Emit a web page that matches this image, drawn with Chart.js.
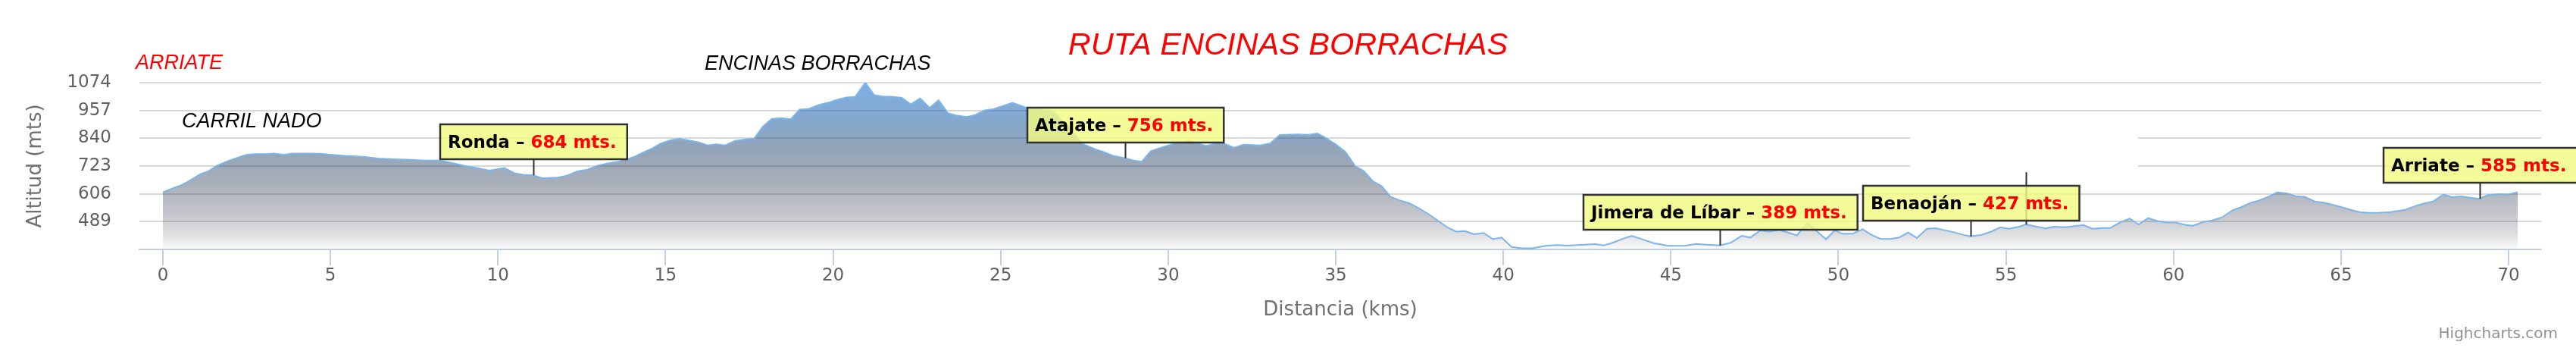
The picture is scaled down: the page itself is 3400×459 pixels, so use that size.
<!DOCTYPE html>
<html>
<head>
<meta charset="utf-8">
<title>Ruta Encinas Borrachas</title>
<script src="https://cdn.jsdelivr.net/npm/chart.js@4.4.1/dist/chart.umd.min.js"></script>
<style>
  html, body { margin: 0; padding: 0; background: #fff; }
  canvas { display: block; }
</style>
</head>
<body>
<canvas id="perfil" width="3400" height="459"></canvas>
<script>
// Perfil: distancia (kms) y altitud (mts)
var kms = [0, 0.32, 0.54, 0.77, 1.11, 1.37, 1.6, 1.94, 2.2, 2.49, 2.73, 3.03, 3.33, 3.6, 3.86, 4.39, 4.69, 4.99, 5.44, 5.97,
  6.42, 6.87, 7.4, 7.85, 8.19, 8.38, 8.68, 9.06, 9.36, 9.74, 10.19, 10.49, 10.75, 11.05, 11.32, 11.77, 12.07, 12.37, 12.67, 12.98,
  13.28, 13.58, 13.8, 14.07, 14.33, 14.56, 14.86, 15.16, 15.42, 15.76, 15.99, 16.25, 16.52, 16.78, 17.08, 17.35, 17.65, 17.91, 18.17, 18.48,
  18.74, 19.0, 19.27, 19.57, 19.91, 20.13, 20.4, 20.66, 20.96, 21.23, 21.49, 21.79, 22.05, 22.32, 22.6, 22.88, 23.15, 23.43, 23.67, 23.98,
  24.24, 24.5, 24.8, 25.11, 25.35, 25.63, 25.86, 26.2, 26.55, 27.0, 27.45, 27.81, 28.04, 28.35, 28.72, 28.97, 29.21, 29.48, 29.78, 30.08,
  30.61, 31.13, 31.43, 31.66, 31.96, 32.26, 32.75, 33.05, 33.33, 33.88, 34.19, 34.45, 34.67, 34.98, 35.28, 35.58, 35.84, 36.11, 36.37, 36.63,
  36.9, 37.2, 37.5, 37.8, 38.07, 38.33, 38.59, 38.86, 39.12, 39.42, 39.69, 39.95, 40.25, 40.55, 40.85, 41.3, 41.61, 41.91, 42.21, 42.51,
  42.74, 43.0, 43.26, 43.57, 43.83, 44.09, 44.47, 44.92, 45.45, 45.75, 46.05, 46.47, 46.8, 47.11, 47.37, 47.67, 47.94, 48.24, 48.5, 48.76,
  49.07, 49.37, 49.63, 49.89, 50.12, 50.42, 50.72, 50.99, 51.25, 51.55, 51.81, 52.08, 52.34, 52.64, 52.91, 53.17, 53.43, 53.74, 53.94, 54.26,
  54.56, 54.83, 55.09, 55.39, 55.6, 55.92, 56.18, 56.45, 56.75, 57.05, 57.31, 57.58, 57.84, 58.11, 58.41, 58.69, 58.96, 59.24, 59.54, 59.8,
  60.06, 60.37, 60.59, 60.89, 61.16, 61.46, 61.76, 62.02, 62.29, 62.55, 62.85, 63.09, 63.38, 63.68, 63.91, 64.21, 64.51, 64.81, 65.11, 65.41,
  65.6, 65.86, 66.17, 66.47, 66.69, 66.92, 67.22, 67.48, 67.75, 68.05, 68.31, 68.58, 68.84, 69.13, 69.37, 69.71, 69.97, 70.27];
var altitudes = [612, 631, 642, 659, 688, 702, 723, 744, 757, 770, 773, 773, 776, 770, 776, 776, 775, 771, 766, 762,
  755, 752, 749, 746, 746, 743, 734, 722, 715, 704, 715, 693, 686, 684, 672, 674, 683, 701, 708, 725,
  734, 741, 749, 762, 780, 794, 818, 832, 838, 829, 823, 810, 815, 810, 829, 835, 839, 890, 922, 925,
  920, 961, 963, 980, 992, 1002, 1012, 1014, 1074, 1021, 1016, 1014, 1010, 983, 1008, 968, 1000, 945, 936, 930,
  938, 957, 963, 978, 989, 975, 964, 960, 955, 890, 816, 794, 784, 766, 756, 746, 741, 786, 800, 813,
  829, 808, 818, 818, 800, 813, 810, 819, 854, 856, 855, 860, 844, 816, 784, 723, 701, 659, 638, 594,
  579, 566, 544, 518, 491, 465, 447, 449, 436, 441, 415, 422, 382, 377, 377, 388, 390, 388, 390, 393,
  394, 389, 400, 417, 429, 417, 399, 387, 388, 395, 392, 389, 401, 429, 422, 452, 447, 454, 443, 431,
  484, 447, 415, 452, 438, 438, 457, 433, 417, 416, 422, 443, 420, 459, 461, 453, 445, 433, 427, 433,
  447, 465, 459, 468, 477, 468, 461, 468, 465, 470, 475, 459, 462, 462, 486, 502, 477, 504, 491, 485,
  485, 475, 472, 488, 494, 508, 537, 550, 568, 578, 595, 612, 608, 595, 594, 574, 568, 558, 546, 534,
  528, 526, 527, 529, 534, 539, 555, 566, 574, 603, 592, 595, 590, 585, 600, 605, 603, 613];

// Ticks de los ejes
var xTicks = [0, 5, 10, 15, 20, 25, 30, 35, 40, 45, 50, 55, 60, 65, 70];
var yTicks = [372, 489, 606, 723, 840, 957, 1074];

// Pueblos con banderita
var pueblos = ['Ronda', 'Atajate', 'Jimera de Líbar', 'Benaoján', 'Arriate'];
var pueblosKm = [11.05, 28.72, 46.47, 53.94, 69.13];
var pueblosAlt = [684, 756, 389, 427, 585];

var puntos = [];
for (var i = 0; i < kms.length; i++) {
  puntos.push({ x: kms[i], y: altitudes[i] });
}

// degradado del area: azul arriba, gris en medio, blanco abajo
function relleno(context) {
  var chart = context.chart;
  var area = chart.chartArea;
  if (!area) return null;
  var g = chart.ctx.createLinearGradient(0, area.top, 0, area.bottom);
  g.addColorStop(0, 'rgba(19,113,210,0.55)');
  g.addColorStop(0.23, 'rgba(11,81,155,0.5)');
  g.addColorStop(0.41, 'rgba(17,53,97,0.45)');
  g.addColorStop(0.6, 'rgba(38,53,78,0.4)');
  g.addColorStop(0.78, 'rgba(55,62,78,0.3)');
  g.addColorStop(0.91, 'rgba(72,77,88,0.18)');
  g.addColorStop(1, 'rgba(80,80,90,0.02)');
  return g;
}

var extras = {
  id: 'extras',
  beforeDatasetsDraw: function(chart) {
    // hueco en la rejilla que tiene el original
    var c = chart.ctx, sx = chart.scales.x, sy = chart.scales.y;
    var x1 = sx.getPixelForValue(52.14), x2 = sx.getPixelForValue(58.94);
    var y1 = sy.getPixelForValue(900), y2 = sy.getPixelForValue(680);
    c.save();
    c.fillStyle = '#ffffff';
    c.fillRect(x1, y1, x2 - x1, y2 - y1);
    c.restore();
  },
  afterDatasetsDraw: function(chart) {
    var c = chart.ctx, sx = chart.scales.x, sy = chart.scales.y;
    c.save();
    c.strokeStyle = '#303030';
    c.lineWidth = 2;

    // palito suelto cerca de Benaoján
    var gx = Math.round(sx.getPixelForValue(55.6)) + 0.5;
    c.beginPath();
    c.moveTo(gx, sy.getPixelForValue(697));
    c.lineTo(gx, sy.getPixelForValue(477));
    c.stroke();

    c.font = 'bold 23px "DejaVu Sans"';
    for (var i = 0; i < pueblos.length; i++) {
      var px = Math.round(sx.getPixelForValue(pueblosKm[i])) + 0.5;
      var py = sy.getPixelForValue(pueblosAlt[i]);
      var bottom = Math.round(py - 21);
      var top = bottom - 46;
      var t1 = pueblos[i] + ' \u2013 ';
      var t2 = pueblosAlt[i] + ' mts.';
      var w1 = c.measureText(t1).width;
      var w = w1 + c.measureText(t2).width + 24;
      var left = Math.round(px - w / 2);

      c.beginPath();
      c.moveTo(px, bottom);
      c.lineTo(px, py);
      c.stroke();

      c.fillStyle = 'rgba(242,250,130,0.82)';
      c.fillRect(left, top, w, 46);
      c.lineWidth = 2.5;
      c.strokeRect(left, top, w, 46);
      c.lineWidth = 2;

      c.textBaseline = 'alphabetic';
      c.textAlign = 'left';
      c.fillStyle = '#000000';
      c.fillText(t1, left + 10, top + 31);
      c.fillStyle = '#ff0000';
      c.fillText(t2, left + 10 + w1, top + 31);
    }
    c.restore();
  },
  afterDraw: function(chart) {
    var c = chart.ctx;
    c.save();
    c.textBaseline = 'alphabetic';
    c.textAlign = 'center';
    c.fillStyle = '#ff0000';
    c.font = 'italic 41.5px "Liberation Sans"';
    c.fillText('RUTA ENCINAS BORRACHAS', 1700, 72);

    c.textAlign = 'left';
    c.font = 'italic 27px "Liberation Sans"';
    c.fillText('ARRIATE', 179, 91);
    c.fillStyle = '#000000';
    c.fillText('ENCINAS BORRACHAS', 930, 92);
    c.fillText('CARRIL NADO', 240, 168);

    c.textAlign = 'right';
    c.fillStyle = '#909090';
    c.font = '20px "DejaVu Sans"';
    c.fillText('Highcharts.com', 3376, 446);
    c.restore();
  }
};

var ctx = document.getElementById('perfil');
var chart = new Chart(ctx, {
  type: 'line',
  data: {
    datasets: [{
      data: puntos,
      borderColor: '#7cb5ec',
      borderWidth: 2,
      backgroundColor: relleno,
      fill: 'start',
      pointRadius: 0,
      tension: 0
    }]
  },
  options: {
    responsive: false,
    animation: false,
    layout: { padding: { left: 0, right: 46, top: 109, bottom: 0 } },
    plugins: {
      legend: { display: false },
      tooltip: { enabled: false }
    },
    scales: {
      x: {
        type: 'linear',
        min: -0.7,
        max: 70.97,
        afterBuildTicks: function(scale) {
          scale.ticks = xTicks.map(function(v) { return { value: v }; });
        },
        afterFit: function(scale) { scale.height = 130; },
        grid: {
          drawOnChartArea: false,
          drawTicks: true,
          tickLength: 21,
          tickColor: '#C0D0E0',
          lineWidth: 2
        },
        border: { display: true, color: '#C0D0E0', width: 2 },
        ticks: {
          autoSkip: false,
          maxRotation: 0,
          padding: 0,
          color: '#606060',
          font: { family: 'DejaVu Sans', size: 23 }
        },
        title: {
          display: true,
          text: 'Distancia (kms)',
          color: '#707070',
          font: { family: 'DejaVu Sans', size: 26 },
          padding: { top: 0, bottom: 34 }
        }
      },
      y: {
        min: 372,
        max: 1074,
        afterBuildTicks: function(scale) {
          scale.ticks = yTicks.map(function(v) { return { value: v }; });
        },
        afterFit: function(scale) { scale.width = 184; },
        grid: {
          drawTicks: false,
          lineWidth: 2,
          color: function(c) { return c.tick && c.tick.value === yTicks[0] ? 'rgba(0,0,0,0)' : '#D8D8D8'; }
        },
        border: { display: false },
        ticks: {
          padding: 37,
          color: '#606060',
          font: { family: 'DejaVu Sans', size: 23 },
          callback: function(v) { return v === yTicks[0] ? '' : v; }
        },
        title: {
          display: true,
          text: 'Altitud (mts)',
          color: '#707070',
          font: { family: 'DejaVu Sans', size: 26 },
          padding: { top: 32, bottom: 0 }
        }
      }
    }
  },
  plugins: [extras]
});
</script>
</body>
</html>
